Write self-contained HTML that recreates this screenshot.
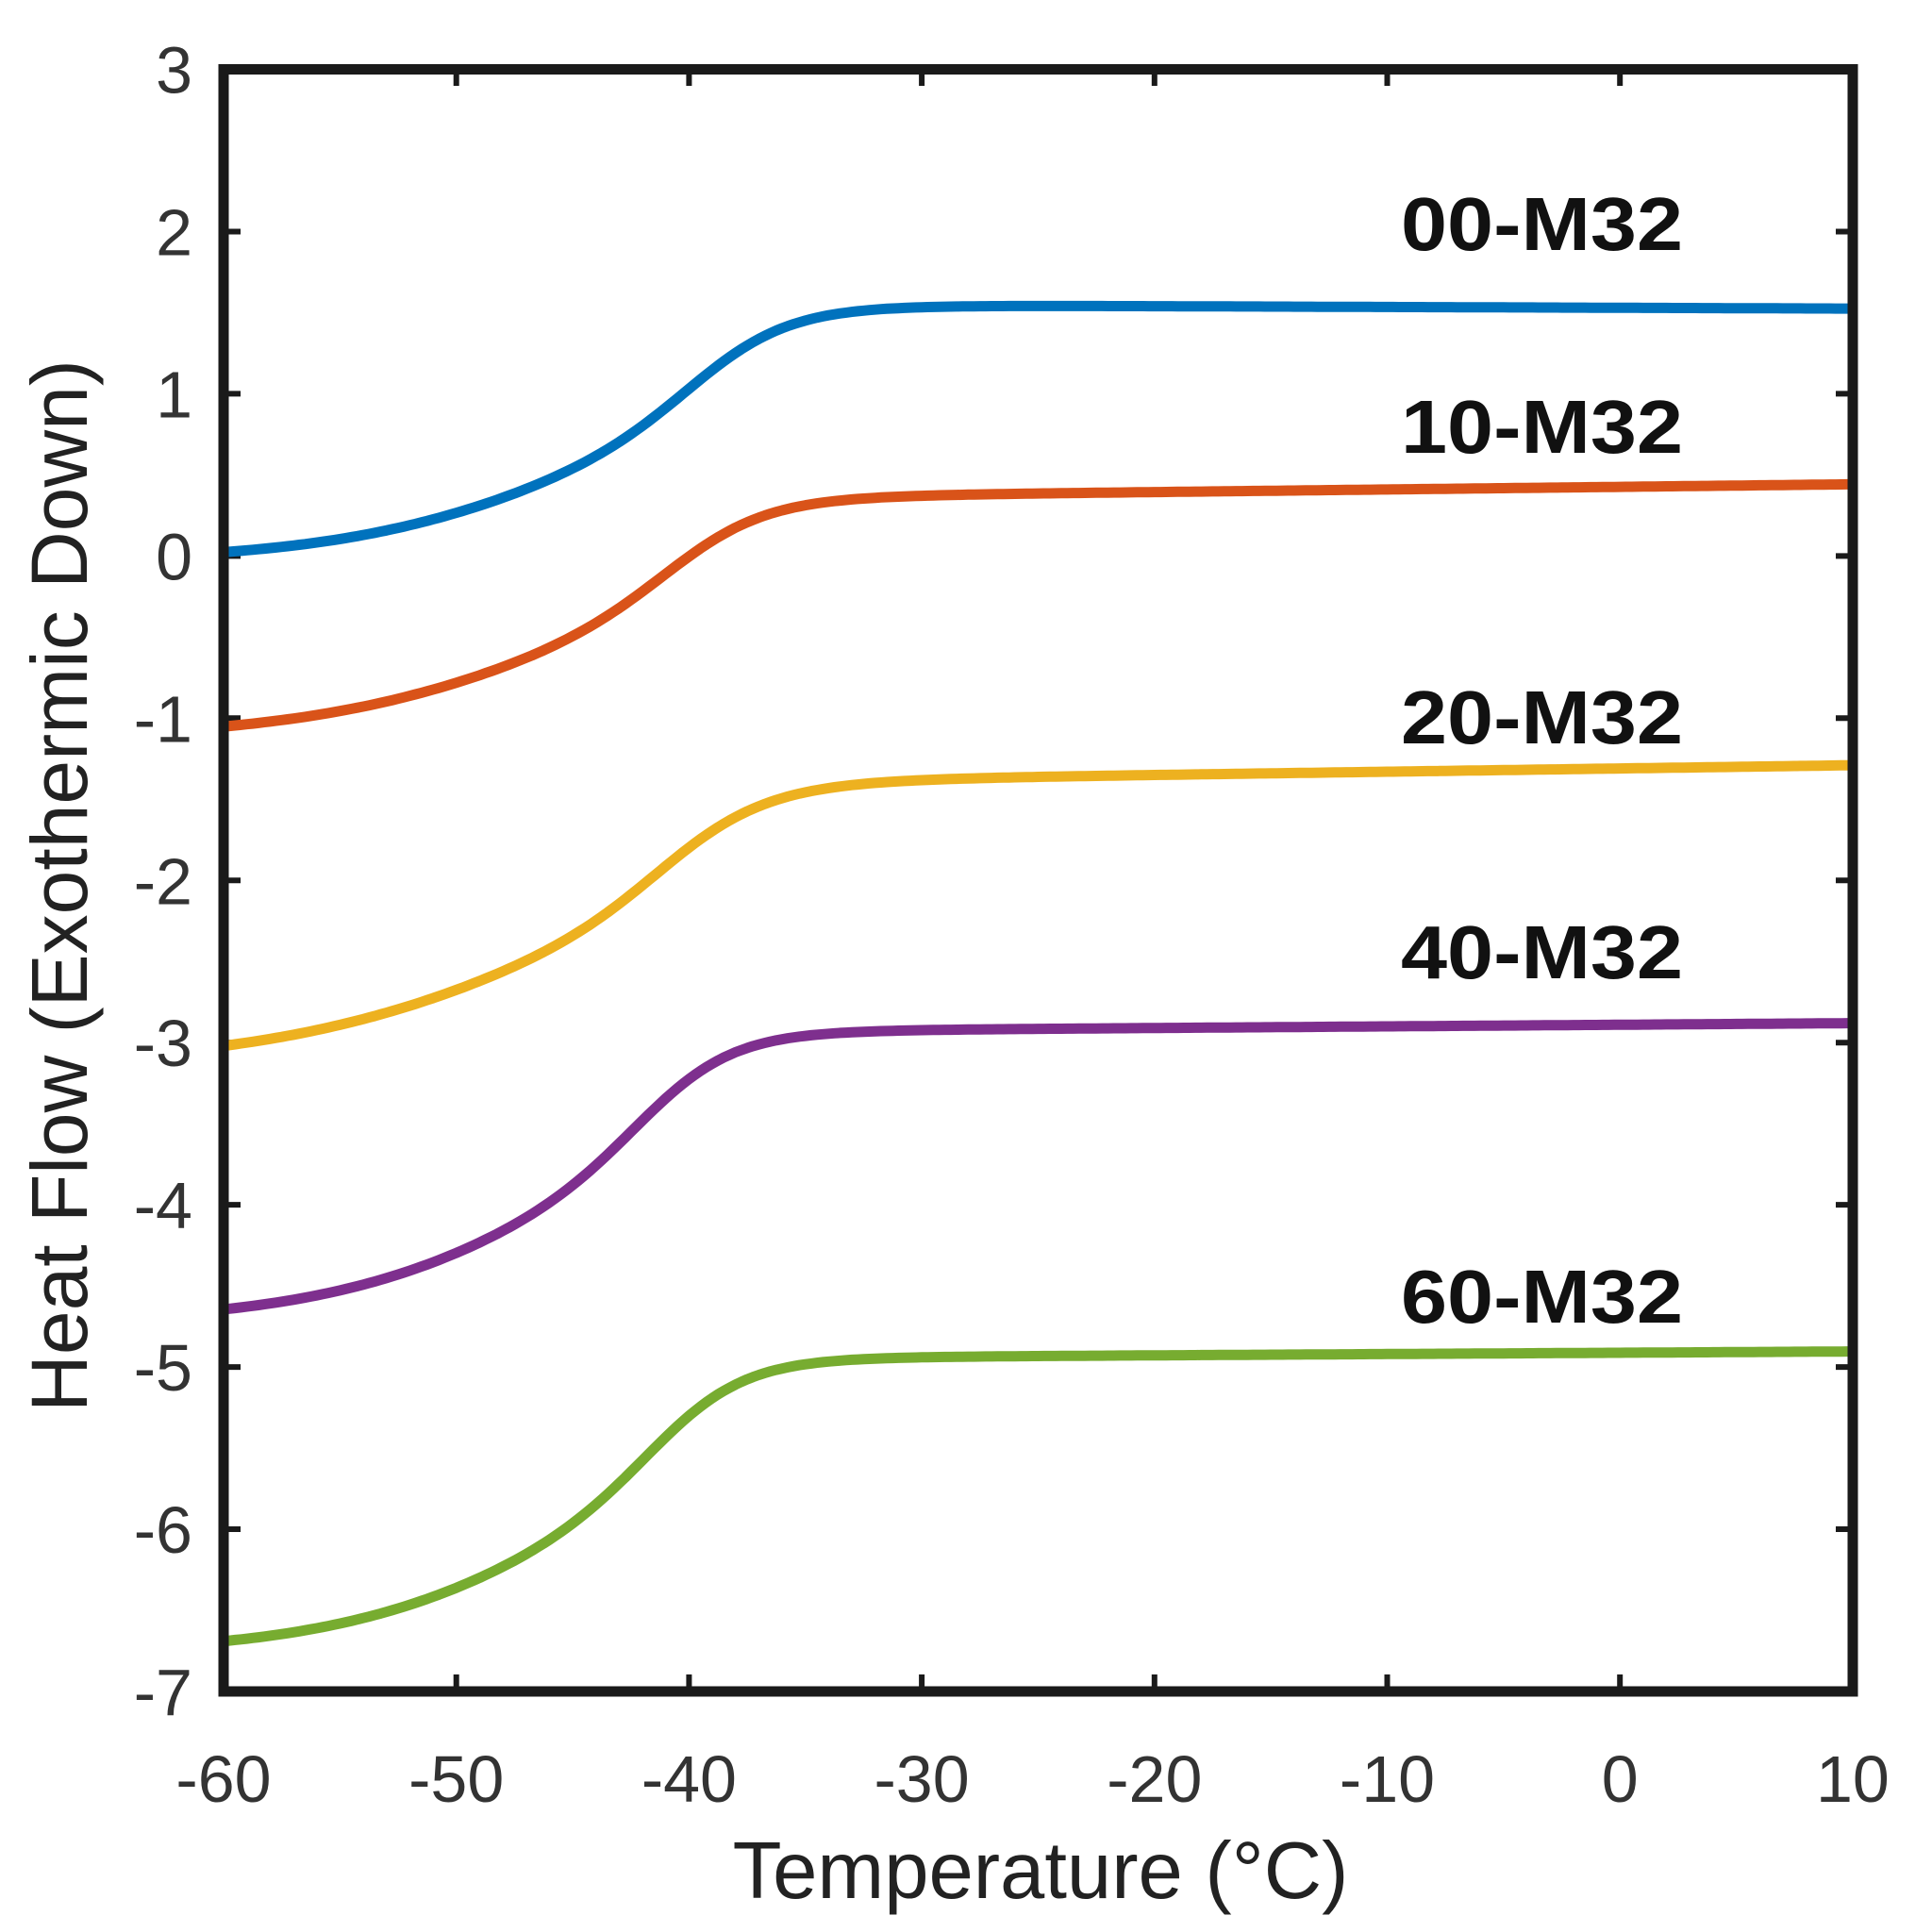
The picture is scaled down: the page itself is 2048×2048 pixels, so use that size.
<!DOCTYPE html>
<html><head><meta charset="utf-8"><style>html,body{margin:0;padding:0;background:#fff}svg{display:block}</style></head>
<body>
<svg id="s" width="2048" height="2048" viewBox="0 0 2048 2048" xmlns="http://www.w3.org/2000/svg" font-family="Liberation Sans, sans-serif">
<rect width="2048" height="2048" fill="#fff"/>
<g id="g"></g>
<rect x="237" y="73.5" width="1727" height="1719.5" fill="none" stroke="#1a1a1a" stroke-width="11"/>
<text x="1103" y="2012" font-size="85" text-anchor="middle" fill="#222">Temperature (°C)</text>
<text transform="translate(92,939) rotate(-90)" font-size="84" text-anchor="middle" fill="#222">Heat Flow (Exothermic Down)</text>
<g font-size="80" font-weight="bold" fill="#111">
<text x="1485" y="265" textLength="299" lengthAdjust="spacingAndGlyphs">00-M32</text>
<text x="1485" y="480" textLength="299" lengthAdjust="spacingAndGlyphs">10-M32</text>
<text x="1485" y="788" textLength="299" lengthAdjust="spacingAndGlyphs">20-M32</text>
<text x="1485" y="1037" textLength="299" lengthAdjust="spacingAndGlyphs">40-M32</text>
<text x="1485" y="1402" textLength="299" lengthAdjust="spacingAndGlyphs">60-M32</text>
</g>
</svg>
<script>
var X=function(t){return 237+(t+60)*24.67},Y=function(v){return 73.5+(3-v)*171.95};
var g=document.getElementById('g'),h='';
for(var t=-60;t<=10;t+=10){var x=X(t);h+='<line x1="'+x+'" y1="1793" x2="'+x+'" y2="1775" stroke="#1a1a1a" stroke-width="6"/><line x1="'+x+'" y1="73.5" x2="'+x+'" y2="91" stroke="#1a1a1a" stroke-width="6"/>';
h+='<text x="'+x+'" y="1910" font-size="70" text-anchor="middle" fill="#333">'+t+'</text>';}
for(var v=-7;v<=3;v++){var y=Y(v);h+='<line x1="237" y1="'+y+'" x2="255" y2="'+y+'" stroke="#1a1a1a" stroke-width="6"/><line x1="1946" y1="'+y+'" x2="1964" y2="'+y+'" stroke="#1a1a1a" stroke-width="6"/>';
h+='<text x="204" y="'+(y+25)+'" font-size="70" text-anchor="end" fill="#333">'+v+'</text>';}
// [color, B, A, center, wl, wr, slope]
var S=[['#0072BD',-0.04,1.6,-42.5,5.5,2.5,-0.0005],
['#D95319',-1.12,1.45,-43.5,5.5,2.5,0.0016],
['#EDB120',-3.13,1.7,-44,6,2.8,0.002],
['#7E2F8E',-4.72,1.77,-44.5,5,2.3,0.001],
['#77AC30',-6.76,1.8,-44,5,2.3,0.0008]];
S.forEach(function(s){var d='';
for(var t=-60;t<=10.001;t+=0.25){var m=1/(1+Math.exp((t-s[3])/3));var w=s[5]+(s[4]-s[5])*m;var L=1/(1+Math.exp((s[3]-t)/w));
var v=s[1]+s[2]*L+s[6]*(t+60);d+=(d?' L':'M')+X(t).toFixed(1)+','+Y(v).toFixed(1);}
h+='<path d="'+d+'" fill="none" stroke="'+s[0]+'" stroke-width="11" stroke-linecap="round" stroke-linejoin="round"/>';});
g.innerHTML=h;
</script>
</body></html>
